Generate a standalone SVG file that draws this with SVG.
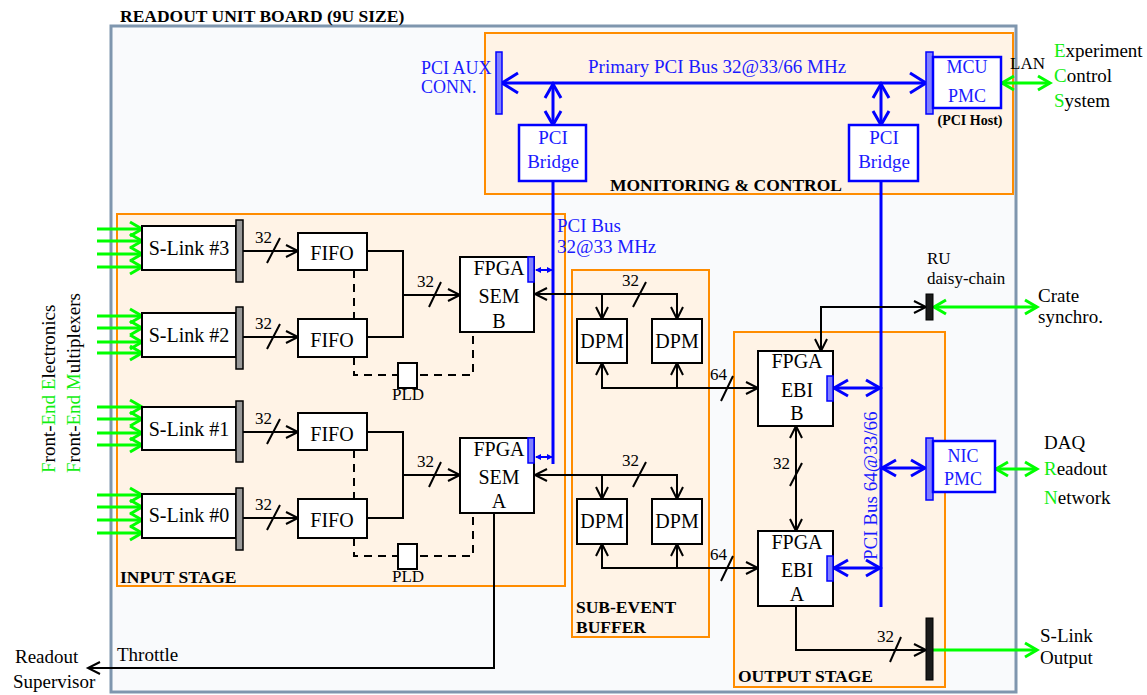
<svg xmlns="http://www.w3.org/2000/svg" width="1147" height="695" viewBox="0 0 1147 695">
<defs>
<style>
text{font-family:"Liberation Serif","Times New Roman",serif;fill:#000}
.bx{fill:#fff;stroke:#000;stroke-width:2}
.bb{fill:#fff;stroke:#0000ff;stroke-width:2.5}
.stage{fill:#fff3e6;stroke:#ff8c00;stroke-width:2}
.bar{fill:#8080ff;stroke:#0000ff;stroke-width:1.5}
.gbar{fill:#999;stroke:#000;stroke-width:1.5}
.kbar{fill:#1a1a1a;stroke:#000;stroke-width:1}
.w{stroke:#000;stroke-width:2;fill:none}
.dash{stroke-dasharray:8 6}
.pci{stroke:#0000ff;stroke-width:3;fill:none}
.g{stroke:#00ff00;stroke-width:3;fill:none}
.t20{font-size:20px}
.t19{font-size:19px}
.lbl{font-size:17px}
.hd{font-size:17.5px;font-weight:bold}
.blue{fill:#1a1aff}
.gr{fill:#11ee11}
.mid{text-anchor:middle}
</style>
<marker id="ak" markerUnits="userSpaceOnUse" viewBox="0 0 16 14" markerWidth="16" markerHeight="14" refX="13" refY="7" orient="auto-start-reverse" overflow="visible"><path d="M1,1 L13,7 L1,13" fill="none" stroke="#000" stroke-width="2"/></marker>
<marker id="ab" markerUnits="userSpaceOnUse" viewBox="0 0 20 22" markerWidth="20" markerHeight="22" refX="17" refY="11" orient="auto-start-reverse" overflow="visible"><path d="M1,1 L17,11 L1,21" fill="none" stroke="#0000ff" stroke-width="3"/></marker>
<marker id="am" markerUnits="userSpaceOnUse" viewBox="0 0 18 18" markerWidth="18" markerHeight="18" refX="15" refY="9" orient="auto-start-reverse" overflow="visible"><path d="M1,1 L15,9 L1,17" fill="none" stroke="#0000ff" stroke-width="3"/></marker>
<marker id="at" markerUnits="userSpaceOnUse" viewBox="0 0 6 6" markerWidth="6" markerHeight="6" refX="5" refY="3" orient="auto-start-reverse" overflow="visible"><path d="M0,0 L6,3 L0,6 Z" fill="#0000ff"/></marker>
<marker id="ag" markerUnits="userSpaceOnUse" viewBox="0 0 16 16" markerWidth="16" markerHeight="16" refX="13" refY="8" orient="auto-start-reverse" overflow="visible"><path d="M1,1 L13,8 L1,15" fill="none" stroke="#00ff00" stroke-width="3"/></marker>
</defs>

<rect width="1147" height="695" fill="#fff"/>

<g id="board">
<rect x="111" y="26" width="905" height="666" fill="#f9fafc" stroke="#7f96ae" stroke-width="3"/>
<text x="120" y="22" class="hd">READOUT UNIT BOARD (9U SIZE)</text>
</g>

<g id="monitoring-control">
<rect x="485" y="33" width="528" height="161" class="stage"/>
<text x="726" y="191" class="hd mid">MONITORING &amp; CONTROL</text>
</g>
<g id="input-stage">
<rect x="117" y="214" width="448" height="372" class="stage"/>
<text x="120" y="583" class="hd">INPUT STAGE</text>
</g>
<g id="sub-event-buffer">
<rect x="572" y="270" width="137" height="367" class="stage"/>
<text x="576" y="613" class="hd">SUB-EVENT</text>
<text x="576" y="633" class="hd">BUFFER</text>
</g>
<g id="output-stage">
<rect x="734" y="332" width="211" height="355" class="stage"/>
<text x="738" y="682" class="hd">OUTPUT STAGE</text>
</g>

<g id="connectors">
<!-- PCI buses -->
<line x1="502" y1="83" x2="926" y2="83" class="pci" marker-start="url(#ab)" marker-end="url(#ab)"/>
<line x1="553" y1="84" x2="553" y2="125" class="pci" marker-start="url(#am)" marker-end="url(#am)"/>
<line x1="881" y1="84" x2="881" y2="125" class="pci" marker-start="url(#am)" marker-end="url(#am)"/>
<line x1="553" y1="181" x2="553" y2="464" class="pci"/>
<line x1="881" y1="181" x2="881" y2="607" class="pci"/>
<line x1="536" y1="270" x2="552" y2="270" stroke="#0000ff" stroke-width="2" marker-start="url(#at)" marker-end="url(#at)"/>
<line x1="536" y1="457" x2="552" y2="457" stroke="#0000ff" stroke-width="2" marker-start="url(#at)" marker-end="url(#at)"/>
<line x1="834" y1="388" x2="880" y2="388" class="pci" marker-start="url(#am)" marker-end="url(#am)"/>
<line x1="834" y1="568" x2="880" y2="568" class="pci" marker-start="url(#am)" marker-end="url(#am)"/>
<line x1="882" y1="468" x2="925" y2="468" class="pci" marker-start="url(#am)" marker-end="url(#am)"/>

<!-- green external links -->
<line x1="1002" y1="83" x2="1050" y2="83" class="g" marker-start="url(#ag)" marker-end="url(#ag)"/>
<line x1="934" y1="307" x2="1037" y2="307" class="g" marker-start="url(#ag)" marker-end="url(#ag)"/>
<line x1="996" y1="469" x2="1037" y2="469" class="g" marker-start="url(#ag)" marker-end="url(#ag)"/>
<line x1="933" y1="650" x2="1037" y2="650" class="g" marker-end="url(#ag)"/>
<g class="g" marker-end="url(#ag)">
<line x1="97" y1="229" x2="142" y2="229"/><line x1="97" y1="241" x2="142" y2="241"/><line x1="97" y1="254" x2="142" y2="254"/><line x1="97" y1="267" x2="142" y2="267"/>
<line x1="97" y1="316" x2="142" y2="316"/><line x1="97" y1="328" x2="142" y2="328"/><line x1="97" y1="342" x2="142" y2="342"/><line x1="97" y1="353" x2="142" y2="353"/>
<line x1="97" y1="407" x2="142" y2="407"/><line x1="97" y1="419" x2="142" y2="419"/><line x1="97" y1="433" x2="142" y2="433"/><line x1="97" y1="445" x2="142" y2="445"/>
<line x1="97" y1="495" x2="142" y2="495"/><line x1="97" y1="507" x2="142" y2="507"/><line x1="97" y1="520" x2="142" y2="520"/><line x1="97" y1="533" x2="142" y2="533"/>
</g>

<!-- data paths -->
<g class="w">
<path d="M243,251 H298" marker-end="url(#ak)"/>
<path d="M243,337 H298" marker-end="url(#ak)"/>
<path d="M243,432 H298" marker-end="url(#ak)"/>
<path d="M243,518 H298" marker-end="url(#ak)"/>
<path d="M367,251 H403 V337 H367"/>
<path d="M403,295 H460" marker-end="url(#ak)"/>
<path d="M367,432 H403 V518 H367"/>
<path d="M403,475 H460" marker-end="url(#ak)"/>
<path d="M535,294 H677 V319" marker-start="url(#ak)" marker-end="url(#ak)"/>
<path d="M602,294 V319" marker-end="url(#ak)"/>
<path d="M602,363 V388 H758" marker-start="url(#ak)" marker-end="url(#ak)"/>
<path d="M677,363 V388" marker-start="url(#ak)"/>
<path d="M535,475 H677 V499" marker-start="url(#ak)" marker-end="url(#ak)"/>
<path d="M602,475 V499" marker-end="url(#ak)"/>
<path d="M602,544 V568 H758" marker-start="url(#ak)" marker-end="url(#ak)"/>
<path d="M677,544 V568" marker-start="url(#ak)"/>
<path d="M796,426 V531" marker-start="url(#ak)" marker-end="url(#ak)"/>
<path d="M821,351 V307 H926" marker-start="url(#ak)" marker-end="url(#ak)"/>
<path d="M796,606 V650 H926" marker-end="url(#ak)"/>
<path d="M494,513 V668 H88" marker-end="url(#ak)"/>
<path class="dash" d="M354,270 V319 M354,357 V375 H473 V332"/>
<path class="dash" d="M354,450 V499 M354,538 V556 H473 V513"/>
<!-- bus-width slashes -->
<path d="M267,263 L280,238 M267,349 L280,324 M267,444 L280,419 M267,530 L280,505"/>
<path d="M429,307 L441,282 M429,487 L441,462"/>
<path d="M633,307 L646,282 M633,487 L646,462"/>
<path d="M721,401 L733,376 M721,581 L733,556"/>
<path d="M790,486 L802,463"/>
<path d="M890,662 L901,637"/>
</g>
<g class="lbl">
<text x="255" y="243">32</text><text x="255" y="329">32</text><text x="255" y="424">32</text><text x="255" y="510">32</text>
<text x="417" y="287">32</text><text x="417" y="467">32</text>
<text x="622" y="286">32</text><text x="622" y="466">32</text>
<text x="710" y="380">64</text><text x="710" y="560">64</text>
<text x="773" y="469">32</text>
<text x="877" y="642">32</text>
</g>
<text x="117" y="661" class="t19">Throttle</text>
</g>

<g id="pci-labels" class="blue">
<text x="588" y="73" class="t19 blue">Primary PCI Bus 32@33/66 MHz</text>
<text x="421" y="74" class="lbl blue" style="font-size:18px">PCI AUX</text>
<text x="421" y="93" class="lbl blue" style="font-size:18px">CONN.</text>
<text x="557" y="232" class="t19 blue">PCI Bus</text>
<text x="557" y="253" class="t19 blue">32@33 MHz</text>
<text transform="translate(877,560) rotate(-90)" class="t19 blue">PCI Bus 64@33/66</text>
</g>

<g id="pci-aux-conn"><rect x="496" y="52" width="6" height="62" class="bar"/></g>
<g id="mcu-pmc">
<rect x="926" y="52" width="7" height="62" class="bar"/>
<rect x="933" y="57" width="68" height="51" class="bb"/>
<text x="967" y="73" class="mid blue" style="font-size:18px">MCU</text>
<text x="967" y="102" class="mid blue" style="font-size:18px">PMC</text>
<text x="970" y="125" class="mid" style="font-size:14px;font-weight:bold">(PCI Host)</text>
</g>
<g id="pci-bridge-1">
<rect x="519" y="125" width="67" height="56" class="bb"/>
<text x="553" y="144" class="mid t19 blue">PCI</text>
<text x="553" y="168" class="mid t19 blue">Bridge</text>
</g>
<g id="pci-bridge-2">
<rect x="849" y="125" width="69" height="56" class="bb"/>
<text x="884" y="144" class="mid t19 blue">PCI</text>
<text x="884" y="168" class="mid t19 blue">Bridge</text>
</g>

<g id="slink-3"><rect x="142" y="226" width="94" height="44" class="bx"/><rect x="236" y="220" width="7" height="62" class="gbar"/><text x="189" y="255" class="mid t20">S-Link #3</text></g>
<g id="slink-2"><rect x="142" y="313" width="94" height="44" class="bx"/><rect x="236" y="307" width="7" height="62" class="gbar"/><text x="189" y="342" class="mid t20">S-Link #2</text></g>
<g id="slink-1"><rect x="142" y="407" width="94" height="43" class="bx"/><rect x="236" y="401" width="7" height="61" class="gbar"/><text x="189" y="436" class="mid t20">S-Link #1</text></g>
<g id="slink-0"><rect x="142" y="494" width="94" height="44" class="bx"/><rect x="236" y="488" width="7" height="62" class="gbar"/><text x="189" y="522" class="mid t20">S-Link #0</text></g>

<g id="fifo-3"><rect x="298" y="233" width="69" height="37" class="bx"/><text x="332" y="260" class="mid t20">FIFO</text></g>
<g id="fifo-2"><rect x="298" y="319" width="69" height="38" class="bx"/><text x="332" y="347" class="mid t20">FIFO</text></g>
<g id="fifo-1"><rect x="298" y="413" width="69" height="37" class="bx"/><text x="332" y="441" class="mid t20">FIFO</text></g>
<g id="fifo-0"><rect x="298" y="499" width="69" height="39" class="bx"/><text x="332" y="527" class="mid t20">FIFO</text></g>

<g id="pld-b"><rect x="398" y="363" width="19" height="25" class="bx"/><text x="408" y="400" class="mid lbl">PLD</text></g>
<g id="pld-a"><rect x="398" y="544" width="19" height="25" class="bx"/><text x="408" y="582" class="mid lbl">PLD</text></g>

<g id="fpga-sem-b">
<rect x="460" y="257" width="74" height="75" class="bx"/>
<rect x="528" y="257" width="6" height="25" class="bar"/>
<text x="499" y="275" class="mid t20">FPGA</text><text x="499" y="303" class="mid t20">SEM</text><text x="499" y="328" class="mid t20">B</text>
</g>
<g id="fpga-sem-a">
<rect x="460" y="438" width="74" height="75" class="bx"/>
<rect x="528" y="438" width="6" height="25" class="bar"/>
<text x="499" y="456" class="mid t20">FPGA</text><text x="499" y="484" class="mid t20">SEM</text><text x="499" y="508" class="mid t20">A</text>
</g>

<g id="dpm-b1"><rect x="577" y="319" width="50" height="44" class="bx"/><text x="602" y="348" class="mid t20">DPM</text></g>
<g id="dpm-b2"><rect x="652" y="319" width="50" height="44" class="bx"/><text x="677" y="348" class="mid t20">DPM</text></g>
<g id="dpm-a1"><rect x="577" y="499" width="50" height="45" class="bx"/><text x="602" y="528" class="mid t20">DPM</text></g>
<g id="dpm-a2"><rect x="652" y="499" width="50" height="45" class="bx"/><text x="677" y="528" class="mid t20">DPM</text></g>

<g id="fpga-ebi-b">
<rect x="758" y="351" width="75" height="75" class="bx"/>
<rect x="827" y="376" width="6" height="25" class="bar"/>
<text x="797" y="368" class="mid t20">FPGA</text><text x="797" y="397" class="mid t20">EBI</text><text x="797" y="420" class="mid t20">B</text>
</g>
<g id="fpga-ebi-a">
<rect x="758" y="531" width="75" height="75" class="bx"/>
<rect x="827" y="556" width="6" height="25" class="bar"/>
<text x="797" y="549" class="mid t20">FPGA</text><text x="797" y="577" class="mid t20">EBI</text><text x="797" y="601" class="mid t20">A</text>
</g>

<g id="ru-daisy-chain">
<rect x="926" y="294" width="7" height="26" class="kbar"/>
<text x="927" y="264" style="font-size:17px">RU</text>
<text x="927" y="284" style="font-size:17px">daisy-chain</text>
</g>
<g id="nic-pmc">
<rect x="926" y="438" width="7" height="62" class="bar"/>
<rect x="933" y="441" width="62" height="51" class="bb"/>
<text x="963" y="462" class="mid blue" style="font-size:18px">NIC</text>
<text x="963" y="485" class="mid blue" style="font-size:18px">PMC</text>
</g>
<g id="slink-output"><rect x="926" y="618" width="7" height="62" class="kbar"/></g>

<g id="external-labels" class="t19">
<text x="1010" y="69" style="font-size:17px">LAN</text>
<text x="1054" y="57" class="t19"><tspan class="gr">E</tspan>xperiment</text>
<text x="1054" y="82" class="t19"><tspan class="gr">C</tspan>ontrol</text>
<text x="1054" y="107" class="t19"><tspan class="gr">S</tspan>ystem</text>
<text x="1038" y="302" class="t19">Crate</text>
<text x="1038" y="323" class="t19">synchro.</text>
<text x="1044" y="449" class="t19">DAQ</text>
<text x="1044" y="475" class="t19"><tspan class="gr">R</tspan>eadout</text>
<text x="1044" y="504" class="t19"><tspan class="gr">N</tspan>etwork</text>
<text x="1040" y="642" class="t19">S-Link</text>
<text x="1040" y="664" class="t19">Output</text>
<text x="15" y="663" class="t19">Readout</text>
<text x="13" y="688" class="t19">Supervisor</text>
<text transform="translate(55,473) rotate(-90)" class="t19"><tspan class="gr">F</tspan>ront-<tspan class="gr">End</tspan> <tspan class="gr">E</tspan>lectronics</text>
<text transform="translate(80,473) rotate(-90)" class="t19"><tspan class="gr">F</tspan>ront-<tspan class="gr">End</tspan> <tspan class="gr">M</tspan>ultiplexers</text>
</g>
</svg>
